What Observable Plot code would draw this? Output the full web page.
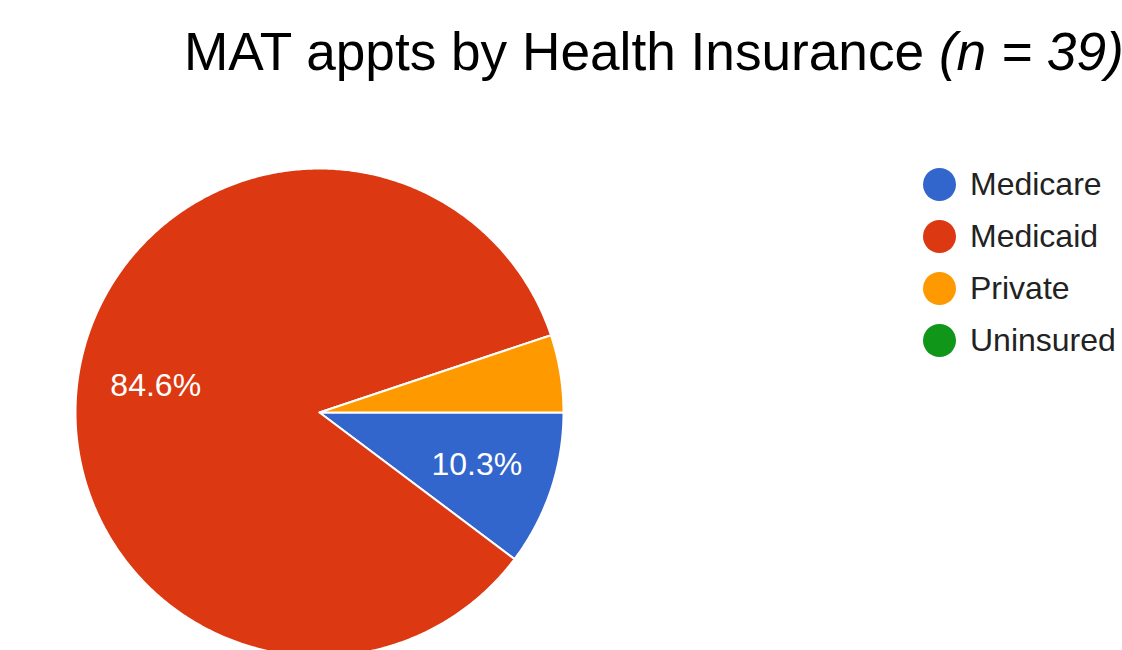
<!DOCTYPE html>
<html>
<head>
<meta charset="utf-8">
<script src="https://cdn.jsdelivr.net/npm/d3@7"></script>
<script src="https://cdn.jsdelivr.net/npm/@observablehq/plot@0.6"></script>
<style>
  html, body { margin: 0; padding: 0; background: #fff; overflow: hidden; width: 1122px; height: 650px; }
  #title { position: relative; height: 100px; font-family: "Liberation Sans", Arial, sans-serif; }
  #title span.t { position: absolute; left: 184px; top: 51px; font-size: 54px; line-height: 0; white-space: nowrap; transform-origin: 0 0; transform: scaleX(0.985); color: #000; }
  #legend { position: absolute; left: 923px; top: 158px; font-family: "Liberation Sans", Arial, sans-serif; font-size: 32px; color: #222; }
  #legend .row { display: flex; align-items: center; height: 52px; }
  #legend .sw { width: 33px; height: 33px; border-radius: 50%; margin-right: 14px; }
  #chart { position: absolute; left: 0; top: 100px; }
</style>
</head>
<body>
<div id="title"><span class="t">MAT appts by Health Insurance <i>(n = 39)</i></span></div>
<div id="chart"></div>
<div id="legend"></div>
<script>
const categories = ["Medicare", "Medicaid", "Private", "Uninsured"];
const counts = [4, 33, 2, 0];
const colors = ["#3366cc", "#dc3912", "#ff9900", "#109618"];
const shownLabels = ["Medicare", "Medicaid"];

const data = categories.map((c, i) => ({category: c, count: counts[i]}));
const total = d3.sum(counts);
const pie = d3.pie().sort(null).value(d => d.count)
  .startAngle(Math.PI / 2).endAngle(Math.PI / 2 + 2 * Math.PI);
const arcs = pie(data);

// polygon points for each slice (angle clockwise from top, y up)
const pts = [];
for (const a of arcs) {
  if (a.endAngle - a.startAngle <= 0) continue;
  const c = a.data.category;
  pts.push({category: c, x: 0, y: 0});
  const n = Math.max(2, Math.ceil((a.endAngle - a.startAngle) / (Math.PI / 360)));
  for (let k = 0; k <= n; k++) {
    const t = a.startAngle + (a.endAngle - a.startAngle) * k / n;
    pts.push({category: c, x: Math.sin(t), y: Math.cos(t)});
  }
  pts.push({category: c, x: 0, y: 0});
}

const labels = arcs.filter(a => shownLabels.includes(a.data.category)).map(a => {
  const m = (a.startAngle + a.endAngle) / 2;
  return {x: 0.68 * Math.sin(m), y: 0.68 * Math.cos(m), text: (a.data.count / total * 100).toFixed(1) + "%"};
});

const chart = Plot.plot({
  width: 1122,
  height: 550,
  marginLeft: 75,
  marginRight: 559,
  marginTop: 68,
  marginBottom: 0,
  x: {domain: [-1, 1], axis: null},
  y: {domain: [-238 / 244, 1], axis: null},
  color: {domain: categories, range: colors},
  style: {fontFamily: "Liberation Sans, Arial, sans-serif", background: "transparent", overflow: "hidden"},
  marks: [
    Plot.line(pts, {x: "x", y: "y", z: "category", fill: "category", stroke: "white", strokeWidth: 2, strokeLinejoin: "round", curve: "linear-closed"}),
    Plot.text(labels, {x: "x", y: "y", text: "text", fill: "white", fontSize: 32, textAnchor: "middle"})
  ]
});
document.getElementById("chart").appendChild(chart);

const legend = document.getElementById("legend");
categories.forEach((c, i) => {
  const row = document.createElement("div");
  row.className = "row";
  const sw = document.createElement("div");
  sw.className = "sw";
  sw.style.background = colors[i];
  const lab = document.createElement("span");
  lab.textContent = c;
  row.appendChild(sw);
  row.appendChild(lab);
  legend.appendChild(row);
});
</script>
</body>
</html>
